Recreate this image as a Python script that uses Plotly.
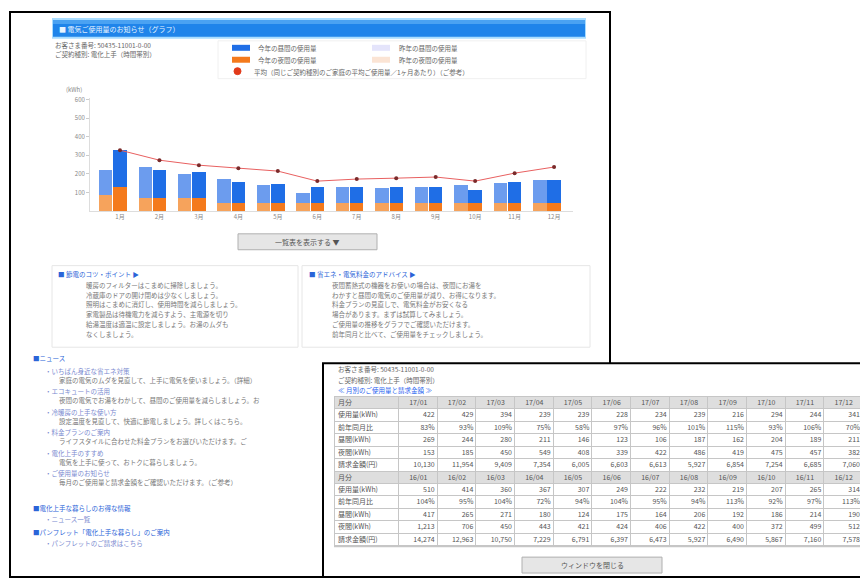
import plotly.graph_objects as go

# the page body has an 8px margin: the figure covers 8..868 x 8..579
OX, OY = 8, 8
W, H = 860, 571
def X(px): return (px - OX) / W
def Y(py): return 1 - (py - OY) / H

FONT = "Noto Sans CJK JP"

# ---------------- data ----------------
months = ["1月", "2月", "3月", "4月", "5月", "6月", "7月", "8月", "9月", "10月", "11月", "12月"]
this_day = [199, 151, 140, 108, 102, 91, 86, 86, 86, 70, 113, 119]
this_night = [134, 75, 75, 48, 48, 43, 48, 48, 48, 48, 48, 48]
prev_day = [140, 162, 129, 129, 97, 54, 86, 76, 86, 97, 103, 124]
prev_night = [86, 75, 75, 48, 48, 48, 48, 48, 48, 48, 48, 48]
avg_usage = [328, 274, 247, 231, 215, 161, 172, 177, 183, 161, 204, 237]
y_ticks = [100, 200, 300, 400, 500, 600]

row_labels = ["使用量(kWh)", "前年同月比", "昼間(kWh)", "夜間(kWh)", "請求金額(円)"]
head_label = "月分"
cols_a = ["17/01", "17/02", "17/03", "17/04", "17/05", "17/06", "17/07", "17/08", "17/09", "17/10", "17/11", "17/12"]
cols_b = ["16/01", "16/02", "16/03", "16/04", "16/05", "16/06", "16/07", "16/08", "16/09", "16/10", "16/11", "16/12"]
use_a = ["422", "429", "394", "239", "239", "228", "234", "239", "216", "294", "244", "341"]
ratio_a = ["83%", "93%", "109%", "75%", "58%", "97%", "96%", "101%", "115%", "93%", "106%", "70%"]
day_a = ["269", "244", "280", "211", "146", "123", "106", "187", "162", "204", "189", "211"]
night_a = ["153", "185", "450", "549", "408", "339", "422", "486", "419", "475", "457", "382"]
bill_a = ["10,130", "11,954", "9,409", "7,354", "6,005", "6,603", "6,613", "5,927", "6,854", "7,254", "6,685", "7,060"]
use_b = ["510", "414", "360", "367", "307", "249", "222", "232", "219", "207", "265", "314"]
ratio_b = ["104%", "95%", "104%", "72%", "94%", "104%", "95%", "94%", "113%", "92%", "97%", "113%"]
day_b = ["417", "265", "271", "180", "124", "175", "164", "206", "192", "186", "214", "190"]
night_b = ["1,213", "706", "450", "443", "421", "424", "406", "422", "400", "372", "499", "512"]
bill_b = ["14,274", "12,963", "10,750", "7,229", "6,791", "6,397", "6,473", "5,927", "6,490", "5,867", "7,160", "7,578"]

fig = go.Figure()

# ---------------- bar chart ----------------
xs = list(range(1, 13))
off = 0.18
bw = 0.34
xl = [x - off for x in xs]
xr = [x + off for x in xs]

fig.add_trace(go.Bar(x=xl, y=prev_night, width=bw, marker=dict(color="#f6a35c", line=dict(width=0)), hoverinfo="skip"))
fig.add_trace(go.Bar(x=xl, y=prev_day, width=bw, marker=dict(color="#6c9cee", line=dict(width=0)), hoverinfo="skip"))
fig.add_trace(go.Bar(x=xr, y=this_night, width=bw, marker=dict(color="#f47a1c", line=dict(width=0)), hoverinfo="skip"))
fig.add_trace(go.Bar(x=xr, y=this_day, width=bw, marker=dict(color="#1f6ee6", line=dict(width=0)), hoverinfo="skip"))
fig.add_trace(go.Scatter(x=xr, y=avg_usage, mode="lines+markers",
                         line=dict(color="#e86060", width=1),
                         marker=dict(color="#7a2a2a", size=4), hoverinfo="skip"))

# ---------------- table (heatmap grid + text) ----------------
col_widths = [64] + [38.67] * 12
edges = [0]
for w in col_widths:
    edges.append(edges[-1] + w)
table_rows = []
table_rows.append([head_label] + cols_a)
for lab, vals in zip(row_labels, [use_a, ratio_a, day_a, night_a, bill_a]):
    table_rows.append([lab] + vals)
table_rows.append([head_label] + cols_b)
for lab, vals in zip(row_labels, [use_b, ratio_b, day_b, night_b, bill_b]):
    table_rows.append([lab] + vals)
header_rows = {0, 6}
z = [[1 if r in header_rows else 0 for _ in range(13)] for r in range(len(table_rows))]
fig.add_trace(go.Heatmap(x=edges, y=list(range(len(table_rows) + 1)), z=z, xaxis="x2", yaxis="y2",
                         colorscale=[[0, "#ffffff"], [1, "#dedede"]], zmin=0, zmax=1,
                         showscale=False, xgap=1, ygap=1, hoverinfo="skip"))
tx, ty, tt, tp = [], [], [], []
for r, row in enumerate(table_rows):
    for c, s in enumerate(row):
        ty.append(r + 0.5)
        tt.append(s)
        if c == 0:
            tx.append(edges[0] + 3)
            tp.append("middle right")
        elif r in header_rows:
            tx.append((edges[c] + edges[c + 1]) / 2)
            tp.append("middle center")
        else:
            tx.append(edges[c + 1] - 3)
            tp.append("middle left")
fig.add_trace(go.Scatter(x=tx, y=ty, text=tt, textposition=tp, mode="text", xaxis="x2", yaxis="y2",
                         textfont=dict(family=FONT, size=7, color="#555"), hoverinfo="skip"))

shapes = []
annotations = []

def rect(x0, y0, x1, y1, fill="rgba(0,0,0,0)", line="rgba(0,0,0,0)", lw=1, layer="below"):
    shapes.append(dict(type="rect", xref="paper", yref="paper", x0=X(x0), x1=X(x1), y0=Y(y1), y1=Y(y0),
                       fillcolor=fill, line=dict(color=line, width=lw), layer=layer))

def txt(x, y, s, size=7, color="#666", anchor="left"):
    annotations.append(dict(xref="paper", yref="paper", x=X(x), y=Y(y), text=s, showarrow=False,
                            xanchor=anchor, yanchor="middle", font=dict(family=FONT, size=size, color=color)))

# window 1
rect(10, 9, 610, 577, fill="#ffffff", line="#000000", lw=2)
# header bar
rect(52, 15, 586, 36, fill="#a8dcff")
rect(53, 17, 585, 34, fill="#1f84ea")
rect(53, 17, 585, 21, fill="#4aa2f2")
txt(57, 26, "■ 電気ご使用量のお知らせ（グラフ）", 7, "#e8f4ff")
txt(53, 42, "お客さま番号: 50435-11001-0-00", 6.5, "#666")
txt(53, 51, "ご契約種別: 電化上手（時間帯別）", 6.5, "#666")

# legend box
rect(218, 38, 586, 76, fill="#ffffff", line="#f0f0f0")
rect(232, 42, 250, 48, fill="#1f6ee6")
txt(256, 45, "今年の昼間の使用量", 6.5, "#666")
rect(232, 54, 250, 60, fill="#f47a1c")
txt(256, 57, "今年の夜間の使用量", 6.5, "#666")
rect(372, 42, 390, 48, fill="#e4e4fb")
txt(397, 45, "昨年の昼間の使用量", 6.5, "#666")
rect(372, 54, 390, 60, fill="#fbe4d4")
txt(397, 57, "昨年の夜間の使用量", 6.5, "#666")
shapes.append(dict(type="circle", xref="paper", yref="paper", x0=X(234), x1=X(241), y0=Y(72), y1=Y(65),
                   fillcolor="#e23a1a", line=dict(color="#e23a1a", width=1), layer="below"))
txt(252, 69, "平均（同じご契約種別のご家庭の平均ご使用量／1ヶ月あたり）（ご参考）", 6.5, "#666")

txt(84, 87, "(kWh)", 6, "#888", "right")

# button 1
rect(238, 232, 377, 248, fill="#e6e6e6", line="#b0b0b0")
txt(307, 240, "一覧表を表示する ▼", 7, "#555", "center")

# text boxes
rect(52, 264, 298, 346, fill="#ffffff", line="#e6e6e6")
rect(302, 264, 590, 346, fill="#ffffff", line="#e6e6e6")
txt(56, 272, "■ 節電のコツ・ポイント ▶", 6.5, "#2a64d8")
left_lines = ["暖房のフィルターはこまめに掃除しましょう。",
              "冷蔵庫のドアの開け閉めは少なくしましょう。",
              "照明はこまめに消灯し、使用時間を減らしましょう。",
              "家電製品は待機電力を減らすよう、主電源を切り",
              "給湯温度は適温に設定しましょう。お湯のムダも",
              "なくしましょう。"]
for i, s in enumerate(left_lines):
    txt(84, 283 + i * 10, s, 6.5, "#777")
txt(307, 272, "■ 省エネ・電気料金のアドバイス ▶", 6.5, "#2a64d8")
right_lines = ["夜間蓄熱式の機器をお使いの場合は、夜間にお湯を",
               "わかすと昼間の電気のご使用量が減り、お得になります。",
               "料金プランの見直しで、電気料金がお安くなる",
               "場合があります。まずは試算してみましょう。",
               "ご使用量の推移をグラフでご確認いただけます。",
               "前年同月と比べて、ご使用量をチェックしましょう。"]
for i, s in enumerate(right_lines):
    txt(330, 283 + i * 10, s, 6.5, "#777")

# news list
txt(31, 357, "■ニュース", 6.5, "#2a64d8")
news = [("・いちばん身近な省エネ対策", "家庭の電気のムダを見直して、上手に電気を使いましょう。（詳細）"),
        ("・エコキュートの活用", "夜間の電気でお湯をわかして、昼間のご使用量を減らしましょう。お"),
        ("・冷暖房の上手な使い方", "設定温度を見直して、快適に節電しましょう。詳しくはこちら。"),
        ("・料金プランのご案内", "ライフスタイルに合わせた料金プランをお選びいただけます。ご"),
        ("・電化上手のすすめ", "電気を上手に使って、おトクに暮らしましょう。"),
        ("・ご使用量のお知らせ", "毎月のご使用量と請求金額をご確認いただけます。（ご参考）")]
for i, (a, b) in enumerate(news):
    txt(43, 370 + i * 20.5, a, 6.5, "#7a8ad0")
    txt(57, 379 + i * 20.5, b, 6.5, "#777")
txt(31, 508, "■電化上手な暮らしのお得な情報", 6.5, "#2a64d8")
txt(43, 519, "・ニュース一覧", 6.5, "#7a8ad0")
txt(31, 532, "■パンフレット「電化上手な暮らし」のご案内", 6.5, "#2a64d8")
txt(43, 543, "・パンフレットのご請求はこちら", 6.5, "#7a8ad0")

# window 2
rect(323, 362, 866, 577, fill="#ffffff", line="#000000", lw=2)
txt(336, 368, "お客さま番号: 50435-11001-0-00", 6.5, "#666")
txt(336, 379, "ご契約種別: 電化上手（時間帯別）", 6.5, "#666")
txt(336, 389, "≪ 月別のご使用量と請求金額 ≫", 6.5, "#2a64f0")
rect(334, 395, 864, 547, fill="#c6c6c6")
rect(522, 557, 662, 573, fill="#e6e6e6", line="#b0b0b0")
txt(592, 565, "ウィンドウを閉じる", 7, "#555", "center")

fig.update_layout(
    width=W, height=H, margin=dict(l=0, r=0, t=0, b=0),
    paper_bgcolor="#ffffff", plot_bgcolor="rgba(0,0,0,0)",
    barmode="relative", bargap=0, showlegend=False,
    shapes=shapes, annotations=annotations,
    xaxis=dict(domain=[X(90), X(573)], range=[0.42, 12.66],
               tickvals=xr, ticktext=months, tickfont=dict(family=FONT, size=6, color="#888"),
               showgrid=False, zeroline=False, showline=True, linecolor="#dddddd", ticks=""),
    yaxis=dict(domain=[Y(209), Y(95)], range=[0, 612], tickvals=y_ticks,
               ticktext=[str(v) for v in y_ticks], tickfont=dict(family=FONT, size=6, color="#888"),
               showgrid=False, zeroline=False, showline=True, linecolor="#dddddd",
               ticks="outside", ticklen=3, tickcolor="#cccccc"),
    xaxis2=dict(domain=[X(335), X(863)], range=[0, edges[-1]], visible=False, anchor="y2"),
    yaxis2=dict(domain=[Y(546), Y(396)], range=[len(table_rows), 0], visible=False, anchor="x2"),
)

fig.write_html("out.html")
